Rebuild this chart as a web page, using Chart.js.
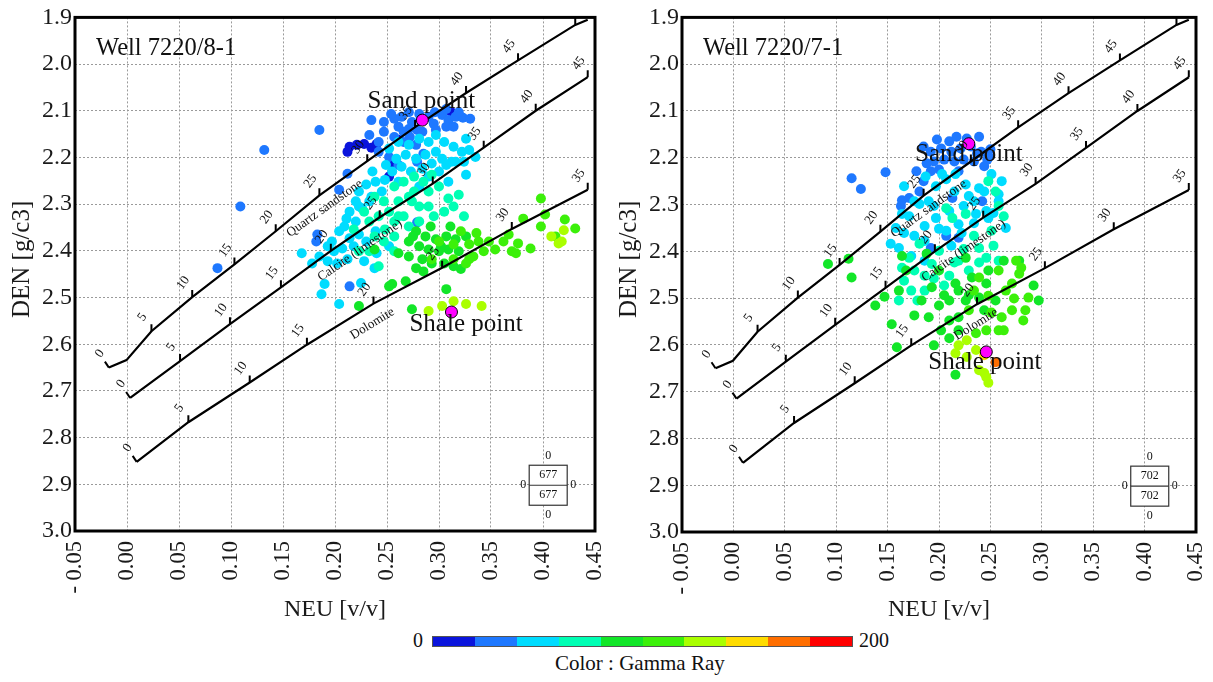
<!DOCTYPE html>
<html><head><meta charset="utf-8">
<script src="https://cdn.jsdelivr.net/npm/chart.js@4.4.0/dist/chart.umd.min.js"></script>
<style>
html,body{margin:0;padding:0;background:#fff;width:1213px;height:682px;overflow:hidden;font-family:'Liberation Serif','Times New Roman',serif;}
#c1{position:absolute;left:0;top:0;}
#c2{position:absolute;left:606px;top:0;}
#cbar{position:absolute;left:432px;top:636px;width:421px;height:11px;display:flex;border:1px solid #555;box-sizing:border-box;}
#cbar div{flex:1;}
.lbl{position:absolute;font-size:20px;color:#111;line-height:20px;}
</style></head>
<body>
<canvas id="c1" width="632" height="624"></canvas>
<canvas id="c2" width="627" height="624"></canvas>
<div id="cbar"></div>
<div class="lbl" style="left:413px;top:630px;">0</div>
<div class="lbl" style="left:859px;top:630px;">200</div>
<div class="lbl" style="left:555px;top:653px;font-size:21px;">Color : Gamma Ray</div>
<script>
// ---------- axes ----------
const neuMin = -0.05, neuMax = 0.45, neuStep = 0.05;
const denMin = 1.9, denMax = 3.0, denStep = 0.1;
const neuTitle = 'NEU [v/v]';
const denTitle = 'DEN [g/c3]';

// ---------- colour scale (Gamma Ray 0..200) ----------
const grRange = [0, 200];
const grColors = ['#0a14dc','#1e78ff','#00dcff','#00ffb4','#12e628','#3cf00a','#aaff00','#ffdc00','#ff6e00','#ff0000'];

// ---------- mineral lines [NEU, DEN] and porosity ticks [phi, NEU, DEN] ----------
const quartzLine = [[-0.0174,2.650],[-0.0005,2.634],[0.0235,2.572],[0.0627,2.499],[0.1033,2.429],[0.143,2.358],[0.185,2.281],[0.231,2.208],[0.277,2.135],[0.326,2.062],[0.376,1.992],[0.431,1.916],[0.443,1.905]];
const quartzTicks = [[0,-0.0174,2.650],[5,0.0235,2.572],[10,0.0627,2.499],[15,0.1033,2.429],[20,0.143,2.358],[25,0.185,2.281],[30,0.231,2.208],[35,0.277,2.135],[40,0.326,2.062],[45,0.376,1.992],[null,0.431,1.916]];
const calciteLine = [[0.003,2.715],[0.051,2.636],[0.099,2.557],[0.148,2.478],[0.196,2.400],[0.243,2.328],[0.294,2.256],[0.343,2.179],[0.393,2.100],[0.443,2.028]];
const calciteTicks = [[0,0.003,2.715],[5,0.051,2.636],[10,0.099,2.557],[15,0.148,2.478],[20,0.196,2.400],[25,0.243,2.328],[30,0.294,2.256],[35,0.343,2.179],[40,0.393,2.100],[45,0.443,2.028]];
const dolomiteLine = [[0.0093,2.852],[0.059,2.767],[0.118,2.682],[0.173,2.601],[0.237,2.513],[0.303,2.436],[0.370,2.353],[0.443,2.269]];
const dolomiteTicks = [[0,0.0093,2.852],[5,0.059,2.767],[10,0.118,2.682],[15,0.173,2.601],[20,0.237,2.513],[25,0.303,2.436],[30,0.370,2.353],[35,0.443,2.269]];
const mineralNames = ['Quartz sandstone','Calcite (limestone)','Dolomite'];
const mineralNameAnchors = [[0.190,2.309],[0.224,2.399],[0.236,2.556]];

// ---------- Well 7220/8-1 points [NEU, DEN] by Gamma Ray class ----------
const w1Title = 'Well 7220/8-1';
const w1Count = 677;
const w1Sand = [0.284,2.120];
const w1Shale = [0.312,2.531];
const w1SandLabel = [0.283,2.079];
const w1ShaleLabel = [0.326,2.557];
const w1_gr0 = [[0.214,2.177],[0.221,2.173],[0.228,2.171],[0.235,2.179],[0.240,2.171],[0.212,2.188],[0.255,2.216],[0.261,2.162],[0.312,2.103],[0.252,2.241]];
const w1_gr1 = [[0.257,2.117],[0.264,2.113],[0.274,2.124],[0.290,2.113],[0.303,2.109],[0.309,2.120],[0.316,2.113],[0.323,2.115],[0.330,2.117],[0.261,2.134],[0.271,2.139],[0.284,2.145],[0.297,2.141],[0.281,2.107],[0.296,2.103],[0.307,2.134],[0.272,2.156],[0.266,2.167],[0.247,2.145],[0.185,2.141],[0.235,2.120],[0.233,2.152],[0.132,2.184],[0.109,2.305],[0.087,2.437],[0.212,2.235],[0.204,2.269],[0.183,2.365],[0.182,2.380],[0.214,2.476],[0.278,2.173],[0.279,2.209],[0.261,2.216],[0.285,2.192],[0.242,2.188],[0.279,2.339],[0.247,2.124],[0.254,2.107],[0.271,2.103],[0.307,2.096],[0.319,2.103],[0.295,2.128],[0.279,2.141],[0.314,2.134],[0.257,2.156],[0.266,2.145],[0.242,2.167],[0.252,2.199]];
const w1_gr2 = [[0.261,2.167],[0.271,2.173],[0.281,2.160],[0.290,2.167],[0.297,2.152],[0.252,2.181],[0.259,2.203],[0.268,2.194],[0.278,2.203],[0.287,2.194],[0.297,2.188],[0.249,2.216],[0.255,2.230],[0.264,2.220],[0.284,2.224],[0.293,2.213],[0.303,2.203],[0.307,2.216],[0.236,2.230],[0.230,2.258],[0.223,2.273],[0.220,2.294],[0.226,2.309],[0.214,2.316],[0.239,2.252],[0.245,2.273],[0.312,2.209],[0.326,2.160],[0.322,2.188],[0.335,2.199],[0.326,2.237],[0.316,2.209],[0.233,2.294],[0.211,2.331],[0.220,2.337],[0.204,2.358],[0.214,2.373],[0.197,2.380],[0.223,2.365],[0.207,2.395],[0.168,2.405],[0.187,2.493],[0.190,2.471],[0.204,2.514],[0.238,2.437],[0.230,2.380],[0.239,2.358],[0.225,2.469],[0.193,2.422],[0.199,2.401],[0.273,2.230],[0.290,2.241],[0.261,2.252],[0.248,2.248],[0.235,2.284],[0.223,2.305],[0.209,2.348],[0.218,2.390],[0.202,2.427],[0.212,2.418],[0.228,2.422],[0.240,2.405],[0.252,2.390],[0.314,2.177],[0.305,2.167],[0.324,2.209],[0.329,2.184],[0.300,2.230],[0.309,2.252],[0.281,2.262],[0.193,2.390],[0.185,2.412],[0.178,2.427]];
const w1_gr3 = [[0.238,2.284],[0.247,2.294],[0.257,2.262],[0.266,2.252],[0.276,2.241],[0.285,2.252],[0.252,2.316],[0.261,2.294],[0.271,2.284],[0.281,2.305],[0.242,2.326],[0.233,2.337],[0.257,2.337],[0.266,2.326],[0.293,2.237],[0.309,2.288],[0.319,2.280],[0.290,2.305],[0.305,2.316],[0.223,2.401],[0.247,2.380],[0.257,2.369],[0.218,2.354],[0.228,2.316],[0.300,2.262],[0.276,2.273],[0.261,2.326],[0.271,2.348],[0.248,2.354],[0.238,2.369],[0.281,2.337],[0.290,2.273],[0.295,2.326],[0.314,2.305],[0.324,2.326],[0.257,2.401],[0.242,2.433],[0.233,2.401],[0.274,2.294]];
const w1_gr4 = [[0.278,2.358],[0.287,2.369],[0.297,2.375],[0.307,2.369],[0.316,2.375],[0.326,2.369],[0.281,2.390],[0.290,2.397],[0.300,2.401],[0.309,2.397],[0.319,2.401],[0.284,2.418],[0.305,2.427],[0.268,2.465],[0.255,2.471],[0.278,2.437],[0.223,2.518],[0.274,2.525],[0.238,2.397],[0.252,2.476],[0.307,2.482],[0.321,2.439],[0.261,2.405],[0.271,2.380],[0.292,2.348],[0.311,2.348],[0.302,2.390],[0.271,2.412],[0.293,2.427],[0.314,2.433],[0.275,2.369],[0.285,2.444]];
const w1_gr5 = [[0.329,2.386],[0.338,2.380],[0.333,2.412],[0.329,2.418],[0.343,2.401],[0.354,2.397],[0.370,2.401],[0.374,2.405],[0.388,2.395],[0.376,2.384],[0.367,2.365],[0.381,2.331],[0.402,2.322],[0.398,2.288],[0.421,2.333],[0.398,2.348],[0.412,2.369],[0.431,2.352],[0.314,2.386],[0.300,2.380],[0.293,2.418],[0.314,2.418],[0.321,2.358],[0.336,2.362],[0.348,2.380],[0.362,2.380],[0.326,2.427]];
const w1_gr6 = [[0.303,2.518],[0.326,2.514],[0.341,2.518],[0.314,2.508],[0.415,2.384],[0.408,2.369],[0.418,2.380],[0.420,2.356],[0.290,2.529]];

// ---------- Well 7220/7-1 points [NEU, DEN] by Gamma Ray class ----------
const w2Title = 'Well 7220/7-1';
const w2Count = 702;
const w2Sand = [0.229,2.170];
const w2Shale = [0.246,2.615];
const w2SandLabel = [0.229,2.193];
const w2ShaleLabel = [0.2446,2.637];
const w2_gr1 = [[0.192,2.187],[0.202,2.180],[0.212,2.187],[0.221,2.180],[0.231,2.176],[0.241,2.187],[0.247,2.204],[0.195,2.208],[0.205,2.204],[0.215,2.208],[0.224,2.204],[0.234,2.208],[0.244,2.218],[0.200,2.225],[0.219,2.229],[0.210,2.165],[0.227,2.159],[0.237,2.191],[0.115,2.244],[0.124,2.267],[0.148,2.231],[0.164,2.291],[0.181,2.272],[0.163,2.303],[0.192,2.229],[0.213,2.286],[0.242,2.293],[0.219,2.371],[0.171,2.286],[0.192,2.393],[0.207,2.367],[0.185,2.250],[0.248,2.197],[0.185,2.176],[0.198,2.161],[0.217,2.155],[0.239,2.155],[0.250,2.182],[0.188,2.212],[0.178,2.229]];
const w2_gr2 = [[0.187,2.240],[0.197,2.261],[0.207,2.246],[0.164,2.320],[0.158,2.350],[0.153,2.384],[0.161,2.393],[0.181,2.299],[0.197,2.329],[0.207,2.356],[0.219,2.342],[0.236,2.320],[0.246,2.314],[0.248,2.329],[0.203,2.235],[0.216,2.235],[0.226,2.257],[0.239,2.265],[0.251,2.235],[0.258,2.278],[0.258,2.293],[0.265,2.350],[0.171,2.325],[0.176,2.367],[0.186,2.346],[0.190,2.293],[0.173,2.410],[0.186,2.420],[0.215,2.272],[0.229,2.282],[0.212,2.388],[0.166,2.261],[0.176,2.293],[0.195,2.303],[0.210,2.314],[0.224,2.303],[0.234,2.293],[0.244,2.272],[0.253,2.318],[0.166,2.361],[0.186,2.378],[0.200,2.352],[0.222,2.361],[0.234,2.340],[0.261,2.250]];
const w2_gr3 = [[0.207,2.308],[0.226,2.320],[0.248,2.250],[0.255,2.272],[0.258,2.303],[0.251,2.356],[0.239,2.393],[0.246,2.414],[0.213,2.329],[0.181,2.384],[0.171,2.414],[0.164,2.435],[0.193,2.427],[0.219,2.420],[0.229,2.441],[0.166,2.463],[0.173,2.484],[0.179,2.505],[0.200,2.399],[0.234,2.367],[0.263,2.325],[0.210,2.452],[0.186,2.452],[0.176,2.441],[0.195,2.458],[0.215,2.424],[0.205,2.473],[0.239,2.424],[0.253,2.388],[0.258,2.420],[0.224,2.395],[0.186,2.484],[0.161,2.505]];
const w2_gr4 = [[0.092,2.427],[0.112,2.416],[0.115,2.456],[0.147,2.497],[0.138,2.516],[0.154,2.556],[0.159,2.605],[0.161,2.484],[0.164,2.410],[0.168,2.441],[0.190,2.541],[0.216,2.664],[0.210,2.586],[0.202,2.569],[0.183,2.505],[0.193,2.477],[0.216,2.469],[0.232,2.456],[0.246,2.469],[0.239,2.499],[0.255,2.505],[0.278,2.420],[0.210,2.548],[0.219,2.541],[0.200,2.441],[0.226,2.414],[0.188,2.405],[0.219,2.484],[0.210,2.505],[0.226,2.505],[0.176,2.537],[0.200,2.516],[0.205,2.494],[0.229,2.494],[0.244,2.526],[0.219,2.569],[0.195,2.601],[0.248,2.441],[0.263,2.420],[0.292,2.473],[0.297,2.505]];
const w2_gr5 = [[0.265,2.484],[0.271,2.469],[0.278,2.448],[0.287,2.499],[0.284,2.526],[0.271,2.526],[0.261,2.541],[0.246,2.569],[0.236,2.575],[0.275,2.420],[0.280,2.435],[0.258,2.441],[0.239,2.456],[0.248,2.495],[0.229,2.526],[0.258,2.569],[0.251,2.531],[0.234,2.484],[0.273,2.501],[0.282,2.548],[0.263,2.569]];
const w2_gr6 = [[0.216,2.618],[0.227,2.626],[0.239,2.654],[0.246,2.669],[0.248,2.681],[0.236,2.611],[0.227,2.590],[0.244,2.660],[0.219,2.601]];
const w2_gr7 = [[0.244,2.622]];
const w2_gr8 = [[0.255,2.637]];

// ---------- build ----------
document.getElementById('cbar').innerHTML = grColors.map(c => '<div style="background:' + c + '"></div>').join('');

const SERIF = "'Liberation Serif','Times New Roman',serif";
const xy = arr => arr.map(p => ({x: p[0], y: p[1]}));
const minerals = [
  {line: quartzLine, ticks: quartzTicks},
  {line: calciteLine, ticks: calciteTicks},
  {line: dolomiteLine, ticks: dolomiteTicks}
];

const overlay = {
  id: 'overlay',
  afterDatasetsDraw(chart, args, o) {
    const {ctx, chartArea: a, scales: {x, y}} = chart;
    ctx.save();
    ctx.beginPath(); ctx.rect(a.left, a.top, a.right - a.left, a.bottom - a.top); ctx.clip();
    ctx.strokeStyle = '#000'; ctx.lineWidth = 2; ctx.fillStyle = '#111';
    ctx.textAlign = 'center'; ctx.textBaseline = 'middle';
    minerals.forEach((m, mi) => {
      m.ticks.forEach((t, i) => {
        const px = x.getPixelForValue(t[1]), py = y.getPixelForValue(t[2]);
        ctx.beginPath(); ctx.moveTo(px, py);
        if (i === 0) ctx.lineTo(px - 4, py - 6); else ctx.lineTo(px, py - 7);
        ctx.stroke();
        if (t[0] !== null) {
          ctx.save(); ctx.font = '13px ' + SERIF;
          ctx.translate(px - 9, py - 14); ctx.rotate(-0.95);
          ctx.fillText(String(t[0]), 0, 0); ctx.restore();
        }
      });
      const an = mineralNameAnchors[mi];
      let k = 0;
      while (k < m.line.length - 2 && m.line[k + 1][0] < an[0]) k++;
      const x0 = x.getPixelForValue(m.line[k][0]), y0 = y.getPixelForValue(m.line[k][1]);
      const x1 = x.getPixelForValue(m.line[k + 1][0]), y1 = y.getPixelForValue(m.line[k + 1][1]);
      const ang = Math.atan2(y1 - y0, x1 - x0);
      ctx.save(); ctx.font = '13px ' + SERIF;
      ctx.translate(x.getPixelForValue(an[0]), y.getPixelForValue(an[1])); ctx.rotate(ang);
      ctx.fillText(mineralNames[mi], 0, 0); ctx.restore();
    });
    ctx.restore();
  },
  afterDraw(chart, args, o) {
    const {ctx, chartArea: a, scales: {x, y}} = chart;
    ctx.save();
    ctx.fillStyle = '#111';
    ctx.font = '24.5px ' + SERIF; ctx.textAlign = 'left'; ctx.textBaseline = 'middle';
    ctx.fillText(o.title, a.left + 21, a.top + 31);
    ctx.font = '25px ' + SERIF; ctx.textAlign = 'center';
    ctx.fillText('Sand point', x.getPixelForValue(o.sandLabel[0]), y.getPixelForValue(o.sandLabel[1]));
    ctx.fillText('Shale point', x.getPixelForValue(o.shaleLabel[0]), y.getPixelForValue(o.shaleLabel[1]));
    // count box
    const bx = x.getPixelForValue(0.405), by = y.getPixelForValue(2.902);
    ctx.fillStyle = '#fff'; ctx.fillRect(bx - 19, by - 20, 38, 40);
    ctx.strokeStyle = '#333'; ctx.lineWidth = 1.2;
    ctx.strokeRect(bx - 19, by - 20, 38, 40);
    ctx.beginPath(); ctx.moveTo(bx - 19, by); ctx.lineTo(bx + 19, by); ctx.stroke();
    ctx.fillStyle = '#111'; ctx.font = '12px ' + SERIF;
    ctx.fillText(String(o.count), bx, by - 10);
    ctx.fillText(String(o.count), bx, by + 10);
    ctx.fillText('0', bx, by - 29); ctx.fillText('0', bx, by + 30);
    ctx.fillText('0', bx - 25, by); ctx.fillText('0', bx + 25, by);
    // frame
    ctx.strokeStyle = '#000'; ctx.lineWidth = 3;
    ctx.strokeRect(a.left, a.top, a.right - a.left, a.bottom - a.top);
    // y axis title
    ctx.save(); ctx.font = '25px ' + SERIF; ctx.fillStyle = '#1a1a1a';
    ctx.translate(a.left - 53, a.top + 242); ctx.rotate(-Math.PI / 2);
    ctx.fillText(denTitle, 0, 0); ctx.restore();
    ctx.restore();
  }
};

function makeChart(id, yWidth, xHeight, padRight, groups, meta) {
  const datasets = [];
  datasets.push({data: xy([meta.sand, meta.shale]), backgroundColor: '#ff00ff', borderColor: '#000', borderWidth: 1, pointRadius: 6, order: 0});
  minerals.forEach(m => datasets.push({data: xy(m.line), showLine: true, borderColor: '#000', borderWidth: 2.2, pointRadius: 0, fill: false, tension: 0, order: 1}));
  groups.forEach(([cls, pts]) => datasets.push({data: xy(pts), backgroundColor: grColors[cls], borderWidth: 0, pointRadius: 5, order: 2 + (9 - cls)}));
  return new Chart(document.getElementById(id), {
    type: 'scatter',
    data: {datasets},
    options: {
      responsive: false, animation: false, events: [],
      layout: {padding: {left: 0, top: 15, right: padRight, bottom: 0}},
      plugins: {legend: {display: false}, tooltip: {enabled: false}, overlay: meta},
      scales: {
        x: {
          type: 'linear', min: neuMin, max: neuMax,
          afterFit: s => { s.height = xHeight; },
          grid: {color: '#9a9a9a', lineWidth: 1, drawTicks: false},
          border: {display: false, dash: [2, 2]},
          ticks: {stepSize: neuStep, autoSkip: false, maxRotation: 90, minRotation: 90, padding: 10, color: '#1a1a1a',
            font: {family: SERIF, size: 22.5},
            callback: v => Math.abs(v + 0.05) < 1e-9 ? '- 0.05' : v.toFixed(2)},
          title: {display: true, text: neuTitle, color: '#1a1a1a', font: {family: SERIF, size: 24}, padding: 0}
        },
        y: {
          type: 'linear', min: denMin, max: denMax, reverse: true,
          afterFit: s => { s.width = yWidth; },
          grid: {color: '#9a9a9a', lineWidth: 1, drawTicks: false},
          border: {display: false, dash: [2, 2]},
          ticks: {stepSize: denStep, autoSkip: false, padding: 3, color: '#1a1a1a',
            font: {family: SERIF, size: 24},
            callback: v => v.toFixed(1)}
        }
      }
    },
    plugins: [overlay]
  });
}

makeChart('c1', 75, 93, 35,
  [[6, w1_gr6], [5, w1_gr5], [4, w1_gr4], [3, w1_gr3], [2, w1_gr2], [1, w1_gr1], [0, w1_gr0]],
  {title: w1Title, count: w1Count, sand: w1Sand, shale: w1Shale, sandLabel: w1SandLabel, shaleLabel: w1ShaleLabel});
makeChart('c2', 76, 92, 35,
  [[8, w2_gr8], [7, w2_gr7], [6, w2_gr6], [5, w2_gr5], [4, w2_gr4], [3, w2_gr3], [2, w2_gr2], [1, w2_gr1]],
  {title: w2Title, count: w2Count, sand: w2Sand, shale: w2Shale, sandLabel: w2SandLabel, shaleLabel: w2ShaleLabel});
</script>
</body></html>
